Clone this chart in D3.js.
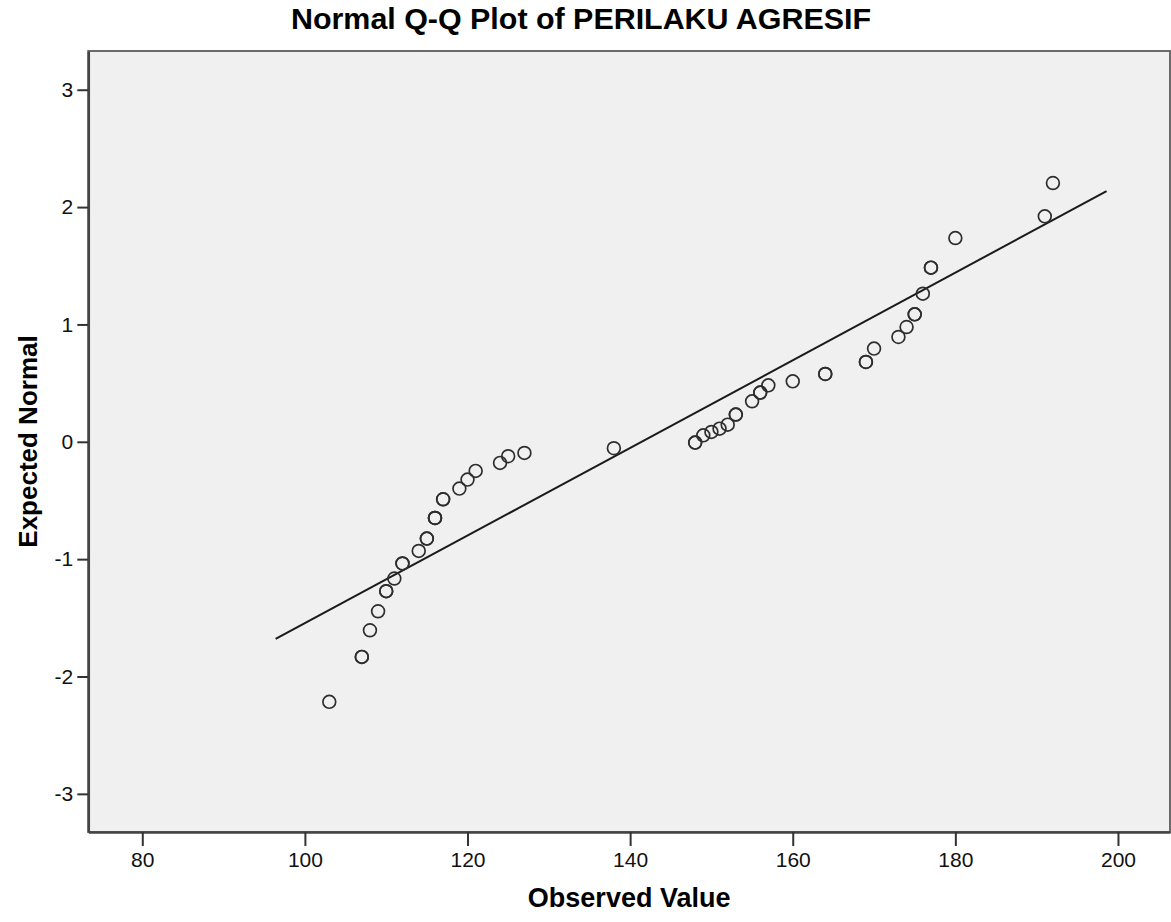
<!DOCTYPE html>
<html>
<head>
<meta charset="utf-8">
<script src="https://d3js.org/d3.v7.min.js"></script>
<style>
  html, body { margin: 0; padding: 0; background: #ffffff; }
  svg { display: block; }
  text { font-family: Arial, "Liberation Sans", sans-serif; }
</style>
</head>
<body>
<svg id="chart" width="1171" height="922"></svg>
<script>
// ---- Data ----
const title = "Normal Q-Q Plot of PERILAKU AGRESIF";
const xLabel = "Observed Value";
const yLabel = "Expected Normal";

// observed values (ties repeated) and their expected normal values
const observed = [103,107,107,108,109,110,110,111,112,112,114,115,115,116,116,116,117,117,119,120,121,124,125,127,138,148,148,149,150,151,152,153,153,155,156,156,157,160,164,164,169,169,170,173,174,175,175,176,177,177,180,191,192];
const expected = [-2.216,-1.833,-1.833,-1.606,-1.444,-1.273,-1.273,-1.165,-1.037,-1.037,-0.930,-0.825,-0.825,-0.649,-0.649,-0.649,-0.490,-0.490,-0.399,-0.322,-0.248,-0.180,-0.123,-0.095,-0.055,-0.007,-0.007,0.055,0.084,0.112,0.146,0.232,0.232,0.345,0.419,0.419,0.481,0.515,0.578,0.578,0.680,0.680,0.794,0.893,0.978,1.086,1.086,1.262,1.484,1.484,1.736,1.921,2.205];

// reference line: expected = (x - mean) / sd, drawn between these x values
const lineMean = 141.4;
const lineSD = 26.78;
const lineXs = [96.4, 198.6];

const xTicks = [80, 100, 120, 140, 160, 180, 200];
const yTicks = [-3, -2, -1, 0, 1, 2, 3];
const xDomain = [73.36, 206.4];
const yDomain = [-3.325, 3.33];

// ---- Layout ----
const svg = d3.select("#chart");
const pLeft = 88.3, pRight = 1170, pTop = 51, pBottom = 832;

const x = d3.scaleLinear().domain(xDomain).range([pLeft, pRight]);
const y = d3.scaleLinear().domain(yDomain).range([pBottom, pTop]);
const fmt = d => String(d);

// plot background + frame
svg.append("rect")
  .attr("x", pLeft).attr("y", pTop)
  .attr("width", pRight - pLeft).attr("height", pBottom - pTop)
  .attr("fill", "#f0f0f0")
  .attr("stroke", "#6a6a6a").attr("stroke-width", 2);

// title
svg.append("text")
  .attr("x", 581).attr("y", 29)
  .attr("text-anchor", "middle")
  .attr("font-size", 29).attr("font-weight", "bold")
  .attr("fill", "#000")
  .attr("textLength", 580).attr("lengthAdjust", "spacingAndGlyphs")
  .text(title);

// x axis
const xAxis = svg.append("g")
  .attr("transform", `translate(0,${pBottom})`)
  .call(d3.axisBottom(x).tickValues(xTicks).tickSizeInner(14).tickSizeOuter(0).tickPadding(6).tickFormat(fmt));
xAxis.select(".domain").attr("stroke", "#444").attr("stroke-width", 2.5);
xAxis.selectAll(".tick line").attr("stroke", "#333").attr("stroke-width", 2);
xAxis.selectAll(".tick text").attr("font-size", 21).attr("fill", "#111")
  .attr("font-family", "Arial, 'Liberation Sans', sans-serif");

// y axis
const yAxis = svg.append("g")
  .attr("transform", `translate(${pLeft},0)`)
  .call(d3.axisLeft(y).tickValues(yTicks).tickSizeInner(11).tickSizeOuter(0).tickPadding(4).tickFormat(fmt));
yAxis.select(".domain").attr("stroke", "#444").attr("stroke-width", 2.5);
yAxis.selectAll(".tick line").attr("stroke", "#333").attr("stroke-width", 2);
yAxis.selectAll(".tick text").attr("font-size", 21).attr("fill", "#111")
  .attr("font-family", "Arial, 'Liberation Sans', sans-serif");

// axis titles
svg.append("text")
  .attr("x", (pLeft + pRight) / 2).attr("y", 907)
  .attr("text-anchor", "middle")
  .attr("font-size", 27).attr("font-weight", "bold")
  .text(xLabel);

svg.append("text")
  .attr("transform", `translate(37,${(pTop + pBottom) / 2}) rotate(-90)`)
  .attr("text-anchor", "middle")
  .attr("font-size", 26).attr("font-weight", "bold")
  .text(yLabel);

// reference line
const line = d3.line().x(d => x(d)).y(d => y((d - lineMean) / lineSD));
svg.append("path")
  .datum(lineXs)
  .attr("d", line)
  .attr("fill", "none")
  .attr("stroke", "#1a1a1a")
  .attr("stroke-width", 2);

// points
const pts = observed.map((v, i) => ({ x: v, y: expected[i] }));
svg.append("g").selectAll("circle")
  .data(pts)
  .join("circle")
  .attr("cx", d => x(d.x))
  .attr("cy", d => y(d.y))
  .attr("r", 6.4)
  .attr("fill", "none")
  .attr("stroke", "#2e2e2e")
  .attr("stroke-width", 1.7);
</script>
</body>
</html>
